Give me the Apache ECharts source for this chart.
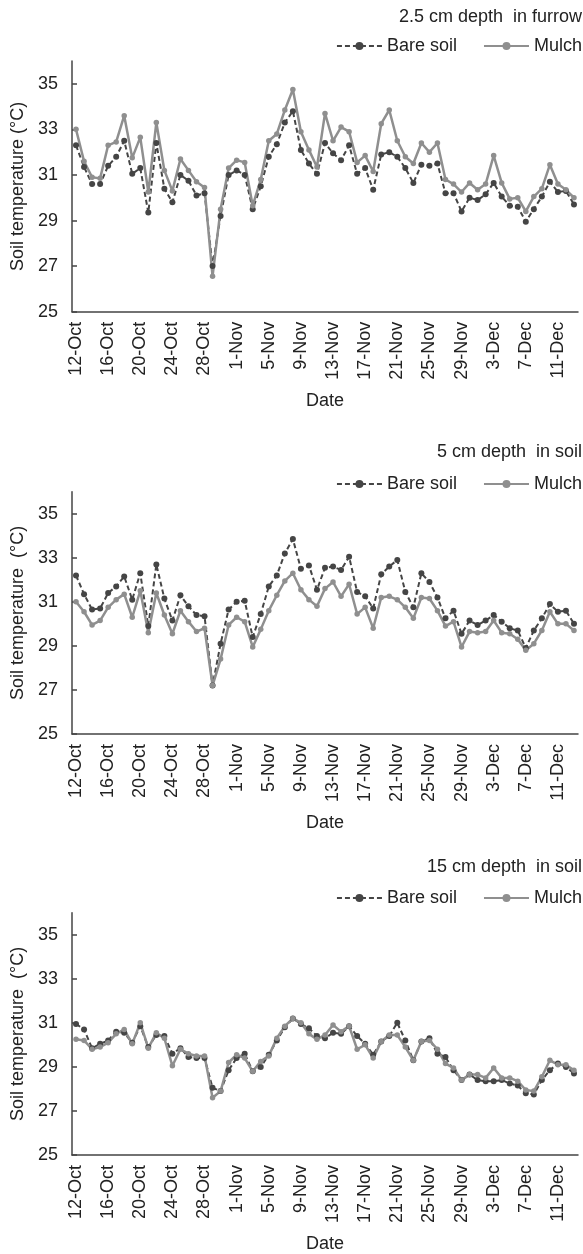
<!DOCTYPE html>
<html>
<head>
<meta charset="utf-8">
<script src="https://cdn.jsdelivr.net/npm/echarts@6/dist/echarts.min.js"></script>
<style>
  html, body { margin: 0; padding: 0; background: #fff; }
  #chart { width: 583px; height: 1254px; }
</style>
</head>
<body>
<div id="chart"></div>
<script>
// dates, 12-Oct to 13-Dec
var dates = [
  '12-Oct','13-Oct','14-Oct','15-Oct','16-Oct','17-Oct','18-Oct','19-Oct','20-Oct','21-Oct',
  '22-Oct','23-Oct','24-Oct','25-Oct','26-Oct','27-Oct','28-Oct','29-Oct','30-Oct','31-Oct',
  '1-Nov','2-Nov','3-Nov','4-Nov','5-Nov','6-Nov','7-Nov','8-Nov','9-Nov','10-Nov',
  '11-Nov','12-Nov','13-Nov','14-Nov','15-Nov','16-Nov','17-Nov','18-Nov','19-Nov','20-Nov',
  '21-Nov','22-Nov','23-Nov','24-Nov','25-Nov','26-Nov','27-Nov','28-Nov','29-Nov','30-Nov',
  '1-Dec','2-Dec','3-Dec','4-Dec','5-Dec','6-Dec','7-Dec','8-Dec','9-Dec','10-Dec',
  '11-Dec','12-Dec','13-Dec'
];
var yTicks = [25, 27, 29, 31, 33, 35];

// 2.5 cm in furrow
var furrowBare = [
  32.3, 31.35, 30.6, 30.6, 31.4, 31.8, 32.5, 31.05, 31.3, 29.35,
  32.4, 30.4, 29.8, 31.0, 30.75, 30.1, 30.2, 27.0, 29.2, 31.0,
  31.2, 31.0, 29.5, 30.5, 31.8, 32.35, 33.3, 33.8, 32.1, 31.5,
  31.05, 32.4, 31.95, 31.65, 32.3, 31.05, 31.3, 30.35, 31.9, 32.0,
  31.8, 31.3, 30.65, 31.45, 31.4, 31.5, 30.2, 30.2, 29.4, 30.0,
  29.9, 30.15, 30.65, 30.05, 29.65, 29.6, 28.95, 29.5, 30.05, 30.7,
  30.25, 30.3, 29.7
];
var furrowMulch = [
  33.0, 31.6, 30.9, 30.85, 32.3, 32.45, 33.6, 31.75, 32.65, 30.25,
  33.3, 31.2, 30.3, 31.7, 31.2, 30.7, 30.45, 26.55, 29.5, 31.3,
  31.65, 31.55, 29.65, 30.8, 32.5, 32.8, 33.85, 34.75, 32.9, 32.1,
  31.35, 33.7, 32.5, 33.1, 32.9, 31.55, 31.85, 31.15, 33.25, 33.85,
  32.5, 31.8, 31.5, 32.4, 32.0, 32.4, 30.8, 30.6, 30.25, 30.65,
  30.35, 30.6, 31.85, 30.65, 29.95, 30.0, 29.4, 30.05, 30.4, 31.45,
  30.6, 30.35, 30.0
];
// 5 cm in soil
var soil5Bare = [
  32.2, 31.35, 30.65, 30.7, 31.4, 31.7, 32.15, 31.1, 32.3, 29.9,
  32.7, 31.15, 30.15, 31.3, 30.8, 30.4, 30.35, 27.2, 29.1, 30.65,
  31.0, 31.05, 29.4, 30.45, 31.7, 32.2, 33.2, 33.85, 32.5, 32.65,
  31.55, 32.55, 32.6, 32.45, 33.05, 31.45, 31.25, 30.7, 32.25, 32.6,
  32.9, 31.45, 30.75, 32.3, 31.9, 31.2, 30.25, 30.6, 29.55, 30.15,
  29.95, 30.15, 30.4, 30.1, 29.8, 29.7, 28.9, 29.7, 30.25, 30.9,
  30.55, 30.6, 30.0
];
var soil5Mulch = [
  31.0, 30.55, 29.95, 30.15, 30.75, 31.1, 31.35, 30.3, 31.5, 29.6,
  31.4, 30.4, 29.55, 30.6, 30.1, 29.65, 29.8, 27.2, 28.4, 29.95,
  30.3, 30.1, 28.95, 29.75, 30.6, 31.3, 31.95, 32.3, 31.55, 31.1,
  30.8, 31.6, 31.9, 31.25, 31.8, 30.45, 30.75, 29.8, 31.2, 31.25,
  31.1, 30.75, 30.25, 31.2, 31.15, 30.6, 29.9, 30.1, 28.95, 29.65,
  29.6, 29.65, 30.15, 29.6, 29.55, 29.3, 28.8, 29.1, 29.7, 30.55,
  30.0, 30.0, 29.7
];
// 15 cm in soil
var soil15Bare = [
  30.95, 30.7, 29.85, 30.05, 30.2, 30.6, 30.55, 30.1, 30.85, 29.9,
  30.45, 30.4, 29.6, 29.85, 29.45, 29.4, 29.4, 28.05, 27.9, 28.85,
  29.4, 29.6, 28.8, 29.0, 29.55, 30.2, 30.8, 31.2, 30.95, 30.75,
  30.4, 30.3, 30.55, 30.5, 30.85, 30.4, 30.05, 29.55, 30.15, 30.4,
  31.0, 30.2, 29.3, 30.15, 30.3, 29.6, 29.45, 28.85, 28.4, 28.65,
  28.4, 28.35, 28.35, 28.4, 28.25, 28.15, 27.8, 27.75, 28.4, 28.85,
  29.15, 29.0, 28.7
];
var soil15Mulch = [
  30.25, 30.2, 29.8, 29.9, 30.1, 30.5, 30.7, 30.05, 31.0, 29.85,
  30.55, 30.3, 29.05, 29.8, 29.6, 29.5, 29.5, 27.6, 27.9, 29.2,
  29.55, 29.4, 28.8, 29.25, 29.5, 30.3, 30.85, 31.2, 31.0, 30.5,
  30.25, 30.45, 30.9, 30.6, 30.85, 29.8, 30.0, 29.4, 30.15, 30.45,
  30.45, 29.9, 29.3, 30.15, 30.2, 29.8, 29.15, 28.95, 28.4, 28.65,
  28.65, 28.5, 28.95, 28.5, 28.5, 28.35, 27.95, 27.9, 28.55, 29.3,
  29.1, 29.1, 28.85
];

var font = "'Liberation Sans', Arial, sans-serif";
var txt = '#222';
var axisColor = '#444';

var panels = [
  { title: '2.5 cm depth  in furrow', yName: 'Soil temperature (°C)', bare: furrowBare, mulch: furrowMulch,
    titleTop: 8, legendTop: 37, top: 61, height: 250.7 },
  { title: '5 cm depth  in soil', yName: 'Soil temperature  (°C)', bare: soil5Bare, mulch: soil5Mulch,
    titleTop: 443, legendTop: 475, top: 491.7, height: 242.3 },
  { title: '15 cm depth  in soil', yName: 'Soil temperature  (°C)', bare: soil15Bare, mulch: soil15Mulch,
    titleTop: 858, legendTop: 889, top: 912.7, height: 243 }
];

var option = {
  animation: false,
  backgroundColor: '#fff',
  textStyle: { fontFamily: font },
  title: [], legend: [], grid: [], xAxis: [], yAxis: [], series: []
};

panels.forEach(function (p, i) {
  option.title.push({
    text: p.title, right: 1, top: p.titleTop, padding: 0,
    textStyle: { fontSize: 18, fontWeight: 'normal', color: txt, fontFamily: font }
  });
  option.legend.push({
    data: ['Bare soil', 'Mulch'], right: 1, top: p.legendTop, padding: 0,
    itemWidth: 45, itemHeight: 10, itemGap: 26, selectedMode: false,
    textStyle: { fontSize: 18, color: txt, fontFamily: font }
  });
  option.grid.push({ left: 72, width: 506, top: p.top, height: p.height });
  option.xAxis.push({
    type: 'category', gridIndex: i, data: dates, boundaryGap: true,
    name: 'Date', nameLocation: 'middle', nameGap: 80,
    nameTextStyle: { fontSize: 18, color: txt, fontFamily: font },
    axisLine: { lineStyle: { color: axisColor, width: 1.5 } },
    axisTick: { inside: true, interval: 3, length: 5, lineStyle: { color: axisColor, width: 1.5 } },
    axisLabel: { interval: 3, rotate: 90, margin: 10, fontSize: 18, color: txt, fontFamily: font },
    splitLine: { show: false }
  });
  option.yAxis.push({
    type: 'value', gridIndex: i, min: 25, max: 36, interval: 2,
    name: p.yName, nameLocation: 'middle', nameGap: 40,
    nameTextStyle: { fontSize: 18, color: txt, fontFamily: font },
    axisLine: { show: true, lineStyle: { color: axisColor, width: 1.5 } },
    axisTick: { show: true, inside: true, length: 5, customValues: yTicks, lineStyle: { color: axisColor, width: 1.5 } },
    axisLabel: { margin: 14, fontSize: 18, color: txt, fontFamily: font, customValues: yTicks },
    splitLine: { show: false }
  });
  option.series.push({
    name: 'Bare soil', type: 'line', xAxisIndex: i, yAxisIndex: i, data: p.bare,
    symbol: 'circle', symbolSize: 6, showAllSymbol: true, color: '#454545',
    lineStyle: { color: '#454545', width: 2, type: [5, 3] },
    itemStyle: { color: '#454545' }
  });
  option.series.push({
    name: 'Mulch', type: 'line', xAxisIndex: i, yAxisIndex: i, data: p.mulch,
    symbol: 'circle', symbolSize: 5.5, showAllSymbol: true, color: '#8f8f8f',
    lineStyle: { color: '#8f8f8f', width: 2.5 },
    itemStyle: { color: '#8f8f8f' }
  });
});

var myChart = echarts.init(document.getElementById('chart'));
myChart.setOption(option);
</script>
</body>
</html>
